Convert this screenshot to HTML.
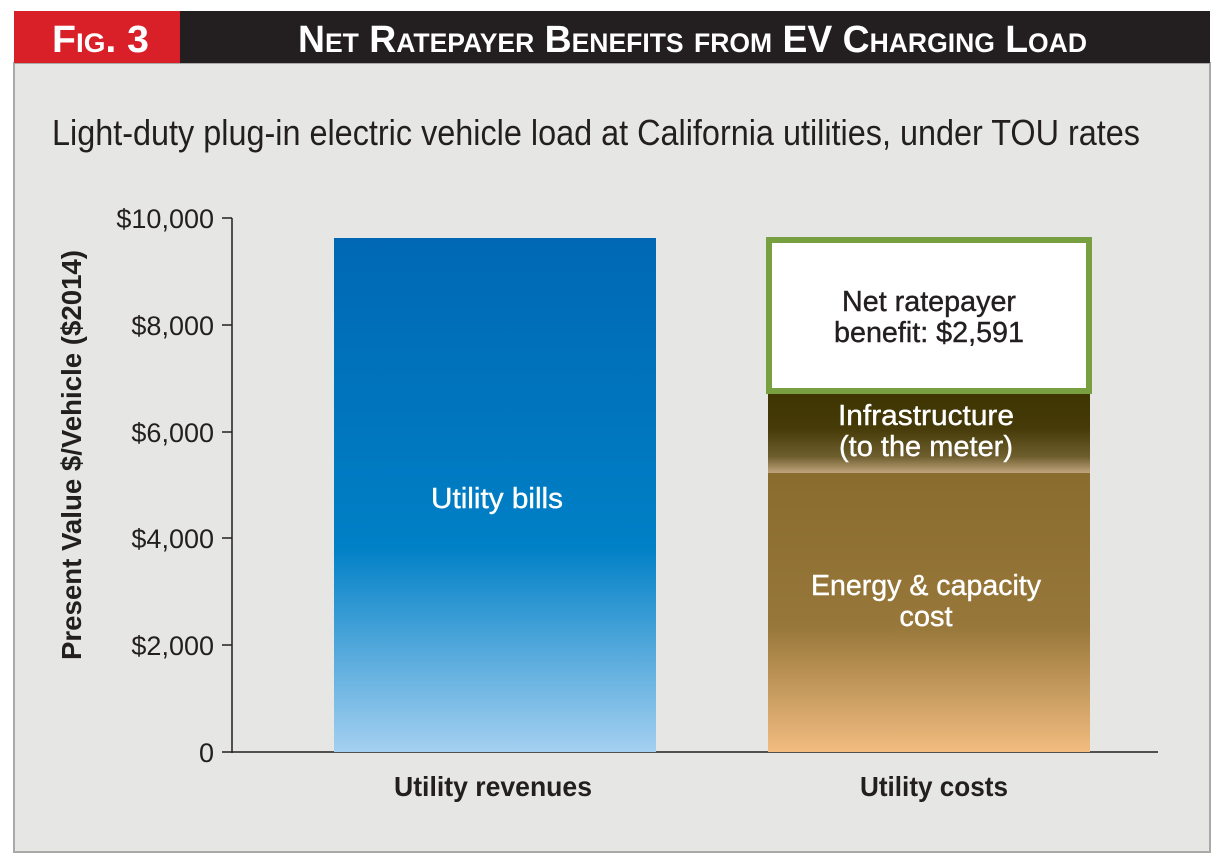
<!DOCTYPE html>
<html><head><meta charset="utf-8"><style>
html,body{margin:0;padding:0;background:#fff;}
svg{display:block;font-family:"Liberation Sans",Arial,sans-serif;}
</style></head><body>
<svg width="1224" height="861" viewBox="0 0 1224 861">
<defs>
<linearGradient id="blue" x1="0" y1="0" x2="0" y2="1">
<stop offset="0" stop-color="#0068b4"/><stop offset="0.6" stop-color="#0080c6"/><stop offset="1" stop-color="#a4d0f0"/>
</linearGradient>
<linearGradient id="infra" x1="0" y1="0" x2="0" y2="1">
<stop offset="0" stop-color="#3e3503"/><stop offset="0.45" stop-color="#453a08"/><stop offset="0.8" stop-color="#6e5e2e"/><stop offset="1" stop-color="#c0a47c"/>
</linearGradient>
<linearGradient id="energy" x1="0" y1="0" x2="0" y2="1">
<stop offset="0" stop-color="#8a6c2e"/><stop offset="0.55" stop-color="#97773a"/><stop offset="1" stop-color="#f2bc80"/>
</linearGradient>
</defs>
<rect x="0" y="0" width="1224" height="861" fill="#fff"/>
<rect x="14" y="63" width="1196" height="789" fill="#e6e7e4" stroke="#a9aaa8" stroke-width="2"/>
<rect x="14" y="11" width="166" height="52" fill="#d92028"/>
<rect x="180" y="11" width="1030" height="52" fill="#231f20"/>
<text x="52" y="52" fill="#fff" font-weight="bold" font-size="38" style="font-variant:small-caps" textLength="97" lengthAdjust="spacingAndGlyphs">Fig. 3</text>
<text x="298" y="52" fill="#fff" font-weight="bold" font-size="38" style="font-variant:small-caps" textLength="789" lengthAdjust="spacingAndGlyphs">Net Ratepayer Benefits from EV Charging Load</text>
<text x="52" y="145" fill="#231f20" font-size="36" textLength="1088" lengthAdjust="spacingAndGlyphs">Light-duty plug-in electric vehicle load at California utilities, under TOU rates</text>
<line x1="232" y1="218" x2="232" y2="753" stroke="#231f20" stroke-width="1.5"/>
<line x1="222" y1="752" x2="1158" y2="752" stroke="#231f20" stroke-width="1.5"/>
<g stroke="#231f20" stroke-width="1.5">
<line x1="222" y1="218" x2="232" y2="218"/><line x1="222" y1="325" x2="232" y2="325"/><line x1="222" y1="432" x2="232" y2="432"/><line x1="222" y1="538" x2="232" y2="538"/><line x1="222" y1="645" x2="232" y2="645"/>
</g>
<g fill="#231f20" font-size="27" text-anchor="end">
<text x="214" y="228">$10,000</text><text x="214" y="335">$8,000</text><text x="214" y="442">$6,000</text><text x="214" y="548">$4,000</text><text x="214" y="655">$2,000</text><text x="214" y="762">0</text>
</g>
<text transform="translate(81,455) rotate(-90)" fill="#231f20" font-size="28" font-weight="bold" text-anchor="middle" textLength="410" lengthAdjust="spacingAndGlyphs">Present Value $/Vehicle ($2014)</text>
<rect x="334" y="238" width="322" height="514" fill="url(#blue)"/>
<rect x="768" y="391" width="322" height="82" fill="url(#infra)"/>
<rect x="768" y="473" width="322" height="279" fill="url(#energy)"/>
<rect x="769" y="240" width="320" height="151" fill="#fff" stroke="#78a040" stroke-width="6"/>
<g fill="#fff" font-size="29" text-anchor="middle" stroke="#fff" stroke-width="0.4">
<text x="497" y="508" textLength="132" lengthAdjust="spacingAndGlyphs">Utility bills</text>
<text x="926" y="425" textLength="176" lengthAdjust="spacingAndGlyphs">Infrastructure</text><text x="926" y="456" textLength="174" lengthAdjust="spacingAndGlyphs">(to the meter)</text>
<text x="926" y="595" textLength="230" lengthAdjust="spacingAndGlyphs">Energy &amp; capacity</text><text x="926" y="626">cost</text>
</g>
<g fill="#231f20" font-size="29" text-anchor="middle" stroke="#231f20" stroke-width="0.4">
<text x="929" y="311" textLength="174" lengthAdjust="spacingAndGlyphs">Net ratepayer</text><text x="929" y="342" textLength="190" lengthAdjust="spacingAndGlyphs">benefit: $2,591</text>
</g>
<g fill="#231f20" font-size="28" font-weight="bold" text-anchor="middle">
<text x="493" y="796" textLength="198" lengthAdjust="spacingAndGlyphs">Utility revenues</text><text x="934" y="796" textLength="148" lengthAdjust="spacingAndGlyphs">Utility costs</text>
</g>
</svg>
</body></html>
